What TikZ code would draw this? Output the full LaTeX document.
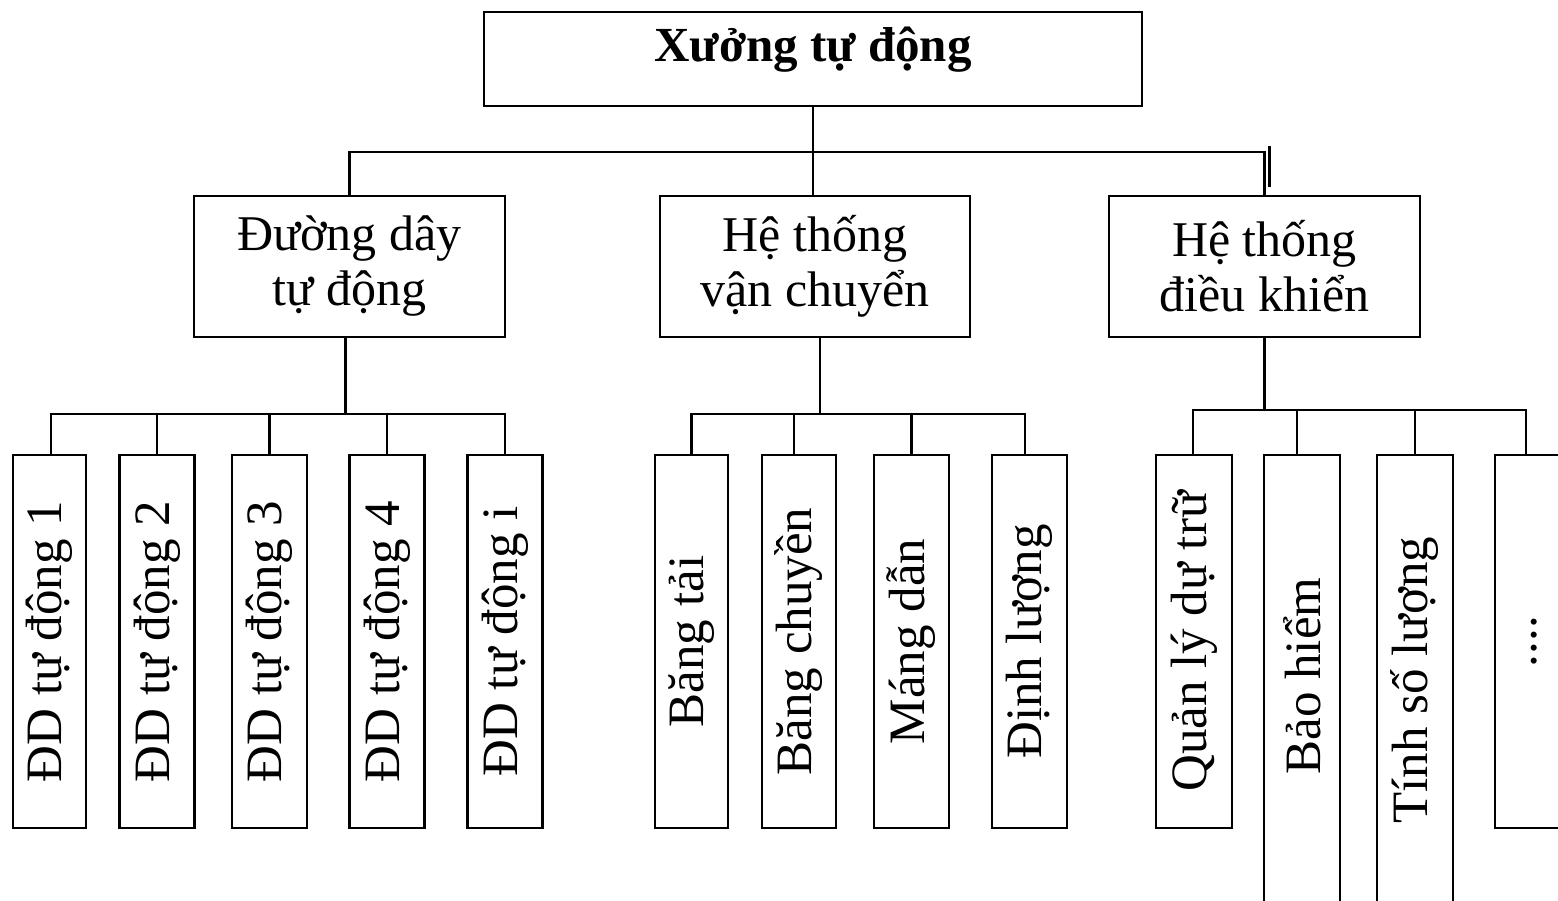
\documentclass[tikz,border=0pt]{standalone}
\usepackage{fontspec}
\setmainfont{Liberation Serif}
\begin{document}
\begin{tikzpicture}[x=1pt,y=-1pt,line width=2.2pt,
  txt/.style={font=\fontsize{50}{55}\selectfont},
  leaftxt/.style={font=\fontsize{51}{55}\selectfont},
  topbox/.style={draw,font=\fontsize{49}{55}\selectfont\bfseries,inner sep=0pt,minimum width=658pt,minimum height=94pt,text height=50pt,text depth=44pt},
  midbox/.style={draw,txt,inner sep=0pt,minimum height=141pt,align=center},
  leaf/.style={draw,leaftxt,rotate=90,inner sep=0pt,minimum width=373pt,minimum height=75pt},
  tallleaf/.style={draw,leaftxt,rotate=90,inner sep=0pt,minimum width=560pt,minimum height=76pt}]
\useasboundingbox (0,0) rectangle (1558,901);
\fill[white] (0,0) rectangle (1558,901);
\clip (0,0) rectangle (1558,901);

% level 0
\node[topbox] (top) at (813,59) {Xưởng tự động};

% level 1
\node[midbox,minimum width=311pt] (A) at (349.5,266.5) {Đường dây\\tự động};
\node[midbox,minimum width=310pt] (B) at (815,266.5) {Hệ thống\\vận chuyển};
\node[midbox,minimum width=311pt] (C) at (1264.5,266.5) {Hệ thống\\điều khiển};

% level 2 under A
\node[leaf,minimum height=73pt] (a1) at (49.5,641.5) {ĐD tự động 1};
\node[leaf] (a2) at (157,641.5) {ĐD tự động 2};
\node[leaf] (a3) at (269.5,641.5) {ĐD tự động 3};
\node[leaf] (a4) at (387,641.5) {ĐD tự động 4};
\node[leaf] (a5) at (505,641.5) {ĐD tự động i};

% level 2 under B
\node[leaf,minimum height=73pt] (b1) at (691.5,641.5) {Băng tải};
\node[leaf,minimum height=74pt] (b2) at (799,641.5) {Băng chuyền};
\node[leaf] (b3) at (911.5,641.5) {Máng dẫn};
\node[leaf] (b4) at (1029.5,641.5) {Định lượng};

% level 2 under C
\node[leaf,minimum height=76pt] (c1) at (1194,641.5) {Quản lý dự trữ};
\node[tallleaf] (c2) at (1302,735) {\hspace*{118pt}Bảo hiểm};
\node[tallleaf] (c3) at (1415,735) {\hspace*{110pt}Tính số lượng};
\node[leaf] (c4) at (1532.5,641.5) {\raisebox{-9pt}{....}};

% connectors level 0 -> 1
\coordinate (bus0) at (0,152);
\draw (top.south) -- (top.south |- B.north);
\draw (A.north) -- (A.north |- bus0) -- (C.north |- bus0) -- (C.north);
\draw ([xshift=5pt]C.north |- bus0) ++(0,-6) -- ++(0,41);

% connectors level 1 -> 2 (A)
\coordinate (busA) at (0,414);
\draw ([xshift=-4pt]A.south) -- ([xshift=-4pt]A.south |- busA);
\draw ([xshift=1.5pt]a1.east) -- ([xshift=1.5pt]a1.east |- busA) -- (a5.east |- busA) -- (a5.east);
\draw (a2.east) -- (a2.east |- busA);
\draw (a3.east) -- (a3.east |- busA);
\draw (a4.east) -- (a4.east |- busA);

% connectors level 1 -> 2 (B)
\coordinate (busB) at (0,414);
\draw ([xshift=5pt]B.south) -- ([xshift=5pt]B.south |- busB);
\draw (b1.east) -- (b1.east |- busB) -- ([xshift=-4.5pt]b4.east |- busB) -- ([xshift=-4.5pt]b4.east);
\draw ([xshift=-5pt]b2.east) -- ([xshift=-5pt]b2.east |- busB);
\draw (b3.east) -- (b3.east |- busB);

% connectors level 1 -> 2 (C)
\coordinate (busC) at (0,410);
\draw (C.south) -- (C.south |- busC);
\draw ([xshift=-1pt]c1.east) -- ([xshift=-1pt]c1.east |- busC) -- ([xshift=-6.5pt]c4.east |- busC) -- ([xshift=-6.5pt]c4.east);
\draw ([xshift=-5pt]c2.east) -- ([xshift=-5pt]c2.east |- busC);
\draw (c3.east) -- (c3.east |- busC);
\end{tikzpicture}
\end{document}
